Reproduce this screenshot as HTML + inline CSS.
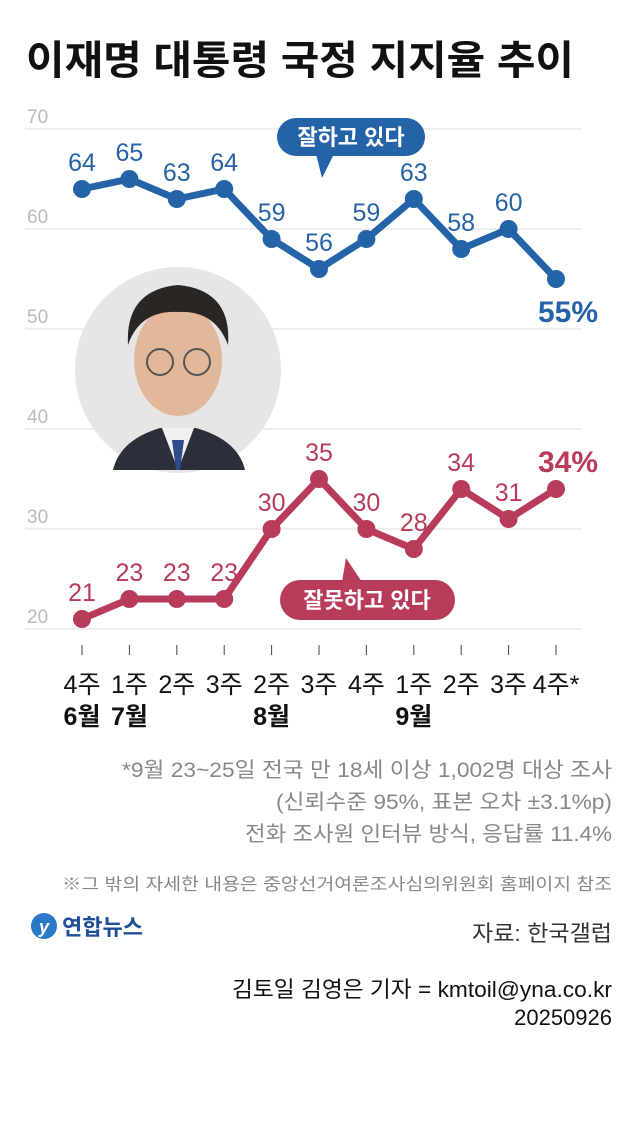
<!DOCTYPE html>
<html><head><meta charset="utf-8">
<style>
body{margin:0;width:640px;height:1124px;background:#fff;overflow:hidden;font-family:"Liberation Sans","Noto Sans CJK KR",sans-serif;}
svg text{font-family:"Liberation Sans","Noto Sans CJK KR",sans-serif;}
</style></head>
<body>
<svg width="640" height="1124">
<text x="26" y="74" font-size="40" font-weight="bold" fill="#111" textLength="548" lengthAdjust="spacingAndGlyphs">이재명 대통령 국정 지지율 추이</text>
<g id="grid"></g>
<g id="photo">
<circle cx="178" cy="370" r="103" fill="#e6e6e6"/>
<path d="M113 470 Q120 440 160 428 L196 428 Q238 440 245 470 Z" fill="#2a2f3a"/>
<path d="M162 428 L178 470 L194 428 Z" fill="#f0f0f0"/>
<path d="M172 440 L184 440 L180 470 L176 470 Z" fill="#2e4c8a"/>
<ellipse cx="178" cy="360" rx="44" ry="56" fill="#e2b89a"/>
<path d="M128 345 Q125 290 178 285 Q232 290 228 345 Q215 310 178 312 Q140 310 128 345 Z" fill="#2a2624"/>
<circle cx="160" cy="362" r="13" fill="none" stroke="#555" stroke-width="2"/>
<circle cx="197" cy="362" r="13" fill="none" stroke="#555" stroke-width="2"/>
</g>
<g id="marks"></g>
<g>
<rect x="277" y="118" width="148" height="38" rx="19" fill="#2563a8"/>
<path d="M316 154 L322 178 L334 154 Z" fill="#2563a8"/>
<text x="351" y="145" font-size="22" font-weight="bold" fill="#fff" text-anchor="middle">잘하고 있다</text>
</g>
<g>
<rect x="280" y="580" width="175" height="40" rx="20" fill="#b83c5a"/>
<path d="M342 582 L346 558 L362 582 Z" fill="#b83c5a"/>
<text x="367" y="608" font-size="22" font-weight="bold" fill="#fff" text-anchor="middle">잘못하고 있다</text>
</g>
<text x="598" y="322" font-size="30" font-weight="bold" fill="#2563a8" text-anchor="end">55%</text>
<text x="598" y="472" font-size="30" font-weight="bold" fill="#b83c5a" text-anchor="end">34%</text>
<g font-size="21" fill="#888">
<text x="122" y="777" textLength="490" lengthAdjust="spacingAndGlyphs">*9월 23~25일 전국 만 18세 이상 1,002명 대상 조사</text>
<text x="276" y="809" textLength="336" lengthAdjust="spacingAndGlyphs">(신뢰수준 95%, 표본 오차 ±3.1%p)</text>
<text x="245" y="841" textLength="367" lengthAdjust="spacingAndGlyphs">전화 조사원 인터뷰 방식, 응답률 11.4%</text>
<text x="62" y="890" font-size="17" textLength="550" lengthAdjust="spacingAndGlyphs">※그 밖의 자세한 내용은 중앙선거여론조사심의위원회 홈페이지 참조</text>
</g>
<g>
<circle cx="44" cy="926" r="13" fill="#2a78c8"/>
<text x="44" y="933" font-size="18" font-weight="bold" fill="#fff" text-anchor="middle" font-style="italic">y</text>
<text x="62" y="935" font-size="22" font-weight="bold" fill="#1f4e96">연합뉴스</text>
</g>
<text x="472" y="941" font-size="22" fill="#333" textLength="140" lengthAdjust="spacingAndGlyphs">자료: 한국갤럽</text>
<text x="232" y="997" font-size="22" fill="#111" textLength="380" lengthAdjust="spacingAndGlyphs">김토일 김영은 기자 = kmtoil@yna.co.kr</text>
<text x="612" y="1025" font-size="22" fill="#111" text-anchor="end">20250926</text>
</svg>
<script>
const weeks=["4주","1주","2주","3주","2주","3주","4주","1주","2주","3주","4주*"];
const months=["6월","7월","","","8월","","","9월","","",""];
const approve=[64,65,63,64,59,56,59,63,58,60,55];
const disapprove=[21,23,23,23,30,35,30,28,34,31,34];
const yTicks=[20,30,40,50,60,70];
const NS="http://www.w3.org/2000/svg";
const X=i=>82+i*47.4;
const Y=v=>629-(v-20)*10;
function mk(t,a,p){const e=document.createElementNS(NS,t);for(const k in a)e.setAttribute(k,a[k]);p.appendChild(e);return e;}
const grid=document.getElementById('grid'),marks=document.getElementById('marks');
yTicks.forEach(v=>{
 const l=mk('line',{x1:25,x2:582,y1:Y(v),y2:Y(v),stroke:'#ddd','stroke-width':1},grid);
 
 
 const t=mk('text',{x:27,y:Y(v)-6,'font-size':19,fill:'#bbb'},grid);t.textContent=v;
 
 
});
weeks.forEach((w,i)=>{
 mk('line',{x1:X(i),x2:X(i),y1:645,y2:655,stroke:'#444','stroke-width':1},grid);
 const t=mk('text',{x:X(i),y:693,'font-size':25,fill:'#111','text-anchor':'middle'},grid);t.textContent=w;
 
 
 if(months[i]){const m=mk('text',{x:X(i),y:725,'font-size':25,'font-weight':'bold',fill:'#111','text-anchor':'middle'},grid);m.textContent=months[i];
 
 }
});
function series(vals,color,name){
 const p=mk('polyline',{points:vals.map((v,i)=>X(i)+','+Y(v)).join(' '),fill:'none',stroke:color,'stroke-width':7,'stroke-linejoin':'round'},marks);
 
 
 vals.forEach((v,i)=>{
  const c=mk('circle',{cx:X(i),cy:Y(v),r:9,fill:color},marks);
  
  
  if(i<vals.length-1){const t=mk('text',{x:X(i),y:Y(v)-18,'font-size':25,fill:color,'text-anchor':'middle'},marks);t.textContent=v;
  
  }
 });
}
series(approve,'#2563a8','approve');
series(disapprove,'#b83c5a','disapprove');
</script>
</body></html>
